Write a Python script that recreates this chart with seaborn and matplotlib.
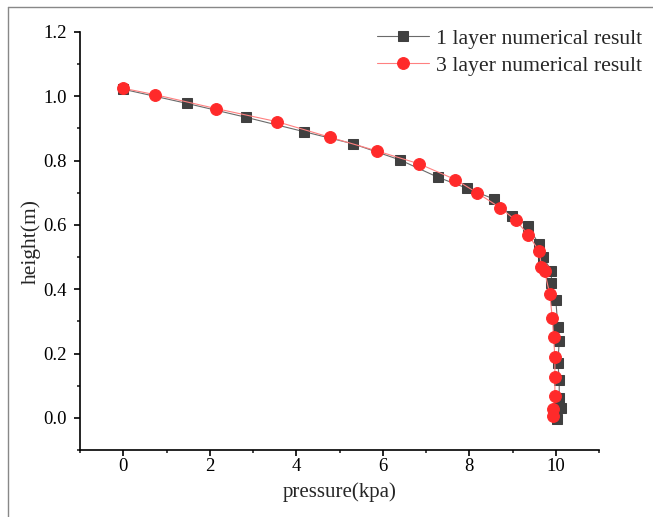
import matplotlib
matplotlib.use("Agg")
import matplotlib.pyplot as plt
from matplotlib.ticker import AutoMinorLocator, MultipleLocator, FormatStrFormatter
from matplotlib.lines import Line2D
import seaborn as sns
import pandas as pd

# 1 layer numerical result
p1 = [0.0, 1.47, 2.83, 4.18, 5.32, 6.40, 7.28, 7.95, 8.58, 8.98, 9.36, 9.61,
      9.70, 9.90, 9.90, 10.00, 10.05, 10.08, 10.05, 10.08, 10.08, 10.11, 10.02]
h1 = [1.022, 0.978, 0.935, 0.890, 0.852, 0.802, 0.748, 0.714, 0.680, 0.627, 0.597, 0.540,
      0.500, 0.458, 0.418, 0.368, 0.283, 0.238, 0.172, 0.118, 0.061, 0.030, -0.003]

# 3 layer numerical result
p3 = [0.0, 0.74, 2.14, 3.56, 4.77, 5.87, 6.84, 7.68, 8.19, 8.71, 9.08, 9.36,
      9.62, 9.67, 9.74, 9.86, 9.92, 9.95, 9.98, 9.98, 9.98, 9.93, 9.93]
h3 = [1.025, 1.005, 0.962, 0.921, 0.873, 0.830, 0.790, 0.741, 0.699, 0.654, 0.614, 0.570,
      0.518, 0.469, 0.456, 0.386, 0.312, 0.252, 0.188, 0.128, 0.069, 0.027, 0.006]

labels = ["1 layer numerical result", "3 layer numerical result"]

sns.set_style("ticks")
plt.rcParams["font.family"] = ["Liberation Serif", "DejaVu Serif"]

fig = plt.figure(figsize=(6.53, 5.17), dpi=100)
ax = fig.add_axes([80 / 653, 1 - 450 / 517, (599 - 80) / 653, (450 - 32) / 517])

df1 = pd.DataFrame({"p": p1, "h": h1})
df3 = pd.DataFrame({"p": p3, "h": h3})

sns.lineplot(data=df1, x="p", y="h", sort=False, estimator=None, ax=ax,
             color="#6a6a6a", linewidth=0.8, marker="s", markersize=7.0,
             markerfacecolor="#404040", markeredgecolor="#404040",
             label=labels[0])
sns.lineplot(data=df3, x="p", y="h", sort=False, estimator=None, ax=ax,
             color="#ff8080", linewidth=0.8, marker="o", markersize=8.5,
             markerfacecolor="#ff2a2a", markeredgecolor="#ff2a2a",
             label=labels[1])

ax.set_xlim(-1, 11)
ax.set_ylim(-0.1, 1.2)
ax.xaxis.set_major_locator(MultipleLocator(2))
ax.yaxis.set_major_locator(MultipleLocator(0.2))
ax.xaxis.set_minor_locator(AutoMinorLocator(2))
ax.yaxis.set_minor_locator(AutoMinorLocator(2))
ax.yaxis.set_major_formatter(FormatStrFormatter("%.1f"))

for side in ("top", "right"):
    ax.spines[side].set_visible(False)
for side in ("left", "bottom"):
    ax.spines[side].set_linewidth(1.2)
    ax.spines[side].set_color("black")

ax.tick_params(which="major", direction="out", length=4.5, width=1.2,
               labelsize=13.5, colors="black")
ax.tick_params(axis="x", which="major", pad=1.5)
ax.tick_params(axis="y", which="major", pad=5)
ax.tick_params(which="minor", direction="out", length=2.5, width=1.2)

ax.set_xlabel("pressure(kpa)", fontsize=15, labelpad=5)
ax.set_ylabel("height(m)", fontsize=15.5, labelpad=2)

leg = ax.legend(loc="upper right", frameon=False, fontsize=15.7,
                bbox_to_anchor=(1.12, 1.055), handlelength=2.4,
                handletextpad=0.3, labelspacing=0.3)

# thin grey page border on the left and top
fig.add_artist(Line2D([8 / 653, 8 / 653], [0, 1 - 7 / 517], color="#888888", lw=1.0))
fig.add_artist(Line2D([8 / 653, 1], [1 - 7 / 517, 1 - 7 / 517], color="#888888", lw=1.0))

fig.savefig("out.png", dpi=100)
